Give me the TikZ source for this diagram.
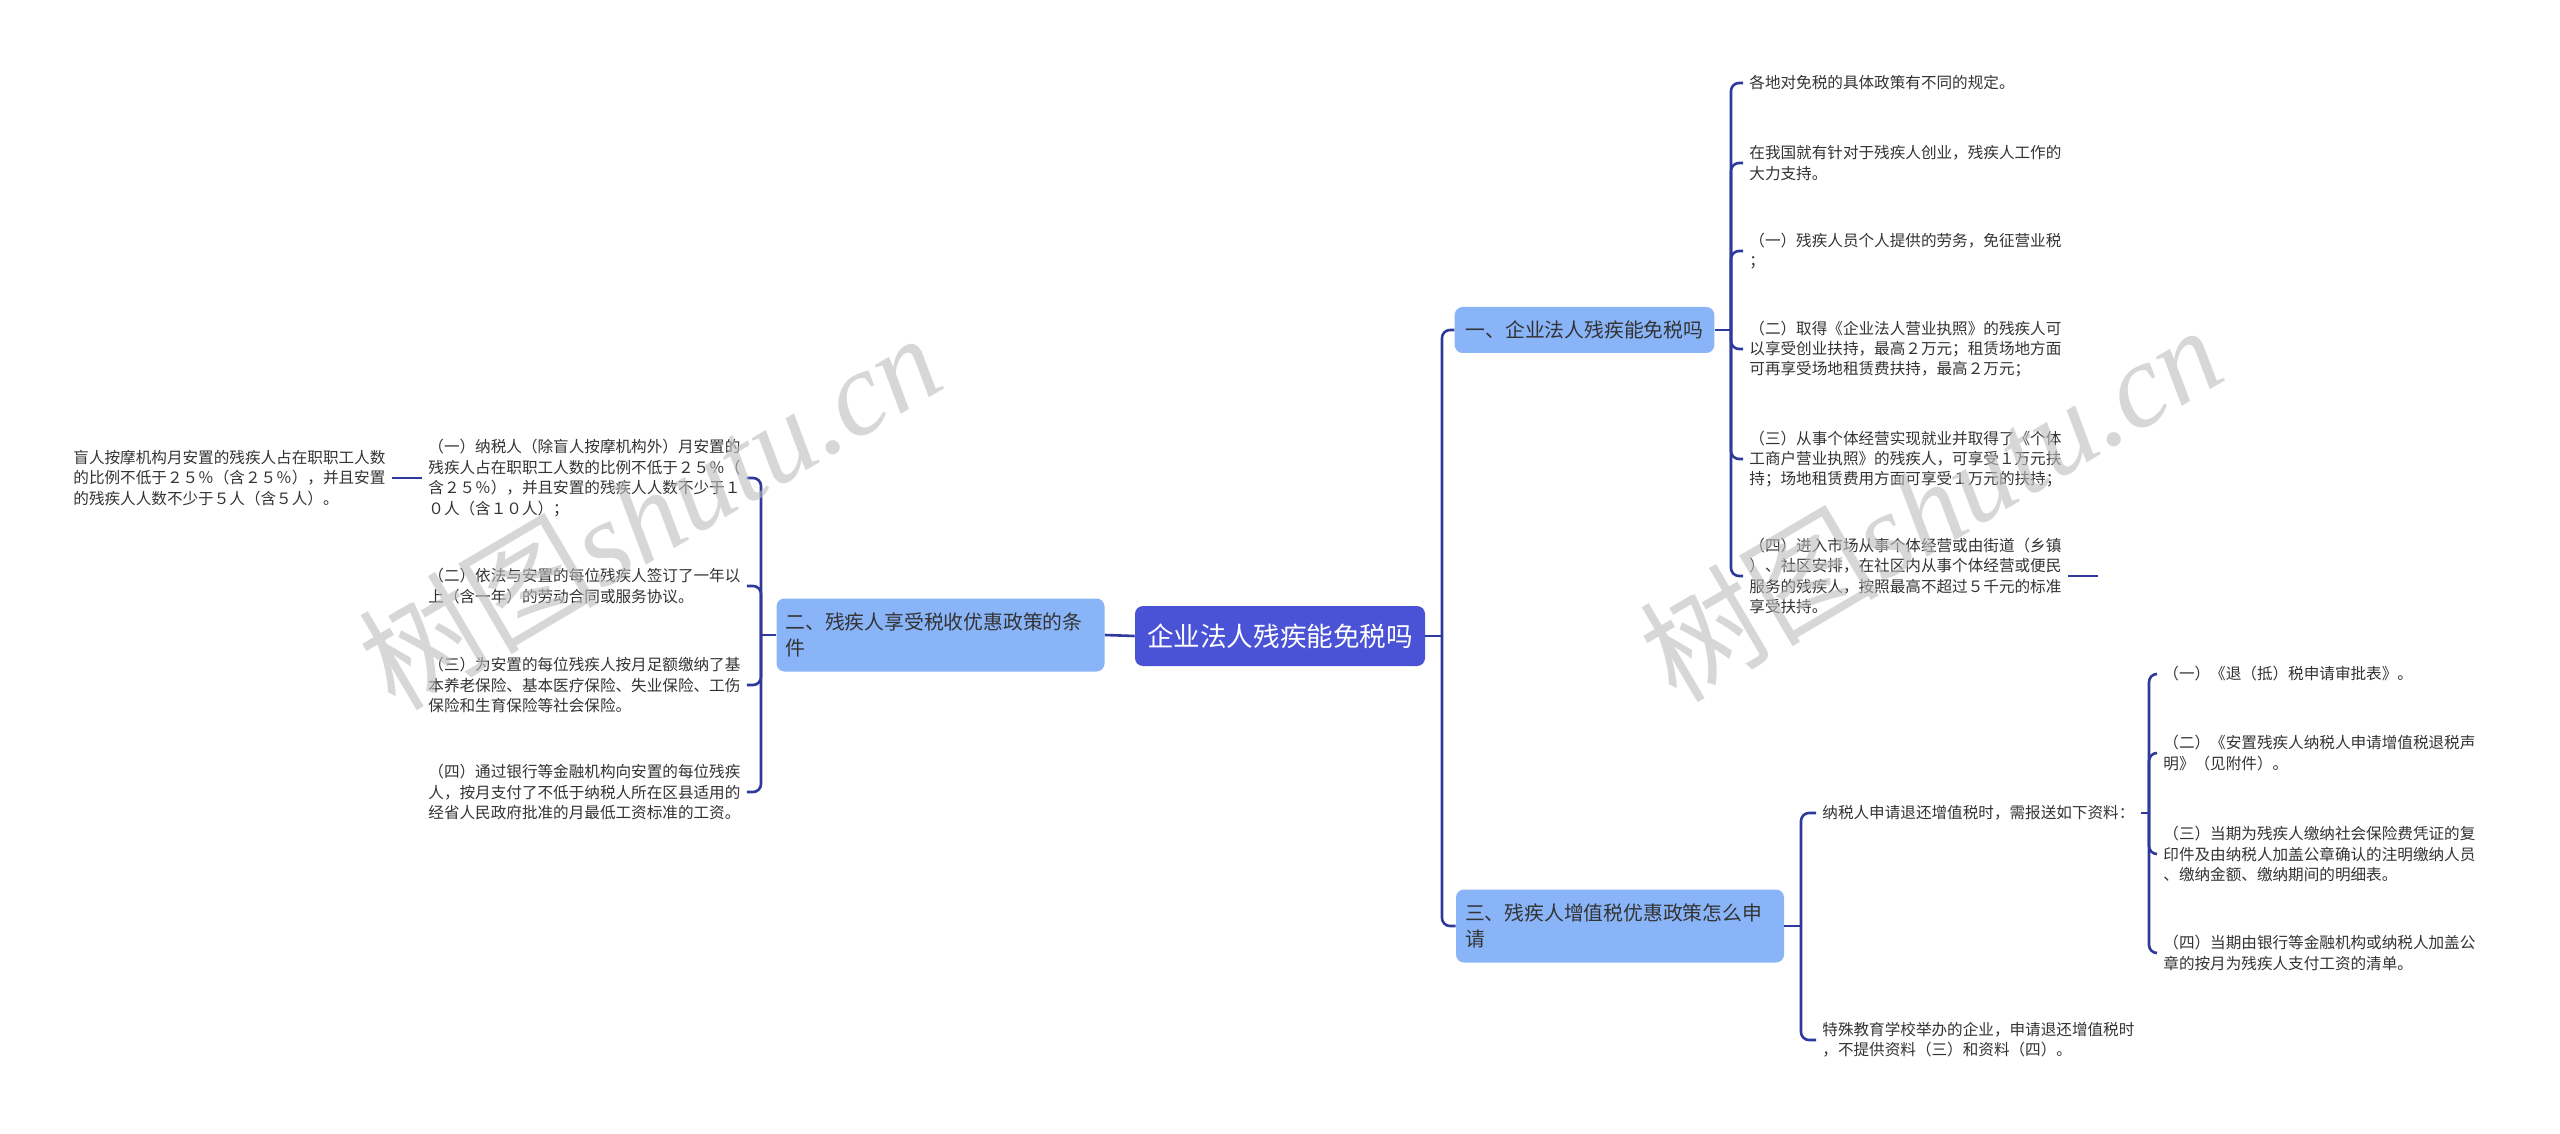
\documentclass[tikz,border=0pt]{standalone}
\usepackage{fontspec}
\setmainfont{Noto Sans CJK SC}
\newfontfamily\wmfont{Liberation Serif}
\usetikzlibrary{calc}
\definecolor{lc}{HTML}{2E3A9B}
\definecolor{rootc}{HTML}{4A52D6}
\definecolor{brc}{HTML}{8AB4F8}
\definecolor{txt}{HTML}{333333}
\definecolor{wm}{HTML}{BDBDBD}
\begin{document}
\begin{tikzpicture}[x=0.5pt,y=-0.5pt,
  conn/.style={draw=lc, line width=1.3pt, rounded corners=4pt},
  rootbox/.style={fill=rootc, rounded corners=4pt, text=white, font=\fontsize{13.3}{16}\selectfont, minimum width=145pt, minimum height=30pt, inner sep=0pt},
  brbox/.style={fill=brc, rounded corners=4pt, text=txt, font=\fontsize{9.9}{13}\selectfont, align=left},
  brone/.style={brbox, minimum width=129.5pt, minimum height=23pt, inner xsep=5.5pt},
  brtwo/.style={brbox, text width=155pt, inner xsep=4.5pt, minimum height=36.5pt},
  leaf/.style={text=txt, font=\fontsize{7.8}{10.2}\selectfont, align=left, inner xsep=3pt, inner ysep=0pt, anchor=west},
  wmark/.style={text=wm, opacity=0.6, rotate=30.5, inner sep=0pt}]
\useasboundingbox (0,0) rectangle (2560,1134);
\fill[white] (0,0) rectangle (2560,1134);

% central topic and main branches
\node[rootbox] (root) at (1280,636) {企业法人残疾能免税吗};
\node[brone] (b1) at (1584.5,330) {一、企业法人残疾能免税吗};
\node[brtwo] (b2) at (940.5,635) {二、残疾人享受税收优惠政策的条\\件};
\node[brtwo] (b3) at (1620,926) {三、残疾人增值税优惠政策怎么申\\请};

% branch 1 leaves
\node[leaf] (c1) at (1743,83) {各地对免税的具体政策有不同的规定。};
\node[leaf] (c2) at (1743,163) {在我国就有针对于残疾人创业，残疾人工作的\\大力支持。};
\node[leaf] (c3) at (1743,251) {（一）残疾人员个人提供的劳务，免征营业税\\；};
\node[leaf] (c4) at (1743,349) {（二）取得《企业法人营业执照》的残疾人可\\以享受创业扶持，最高２万元；租赁场地方面\\可再享受场地租赁费扶持，最高２万元；};
\node[leaf] (c5) at (1743,459) {（三）从事个体经营实现就业并取得了《个体\\工商户营业执照》的残疾人，可享受１万元扶\\持；场地租赁费用方面可享受１万元的扶持；};
\node[leaf] (c6) at (1743,576) {（四）进入市场从事个体经营或由街道（乡镇\\）、社区安排，在社区内从事个体经营或便民\\服务的残疾人，按照最高不超过５千元的标准\\享受扶持。};
\coordinate (c6end) at (2098,576);

% branch 2 leaves
\node[leaf] (l1) at (422,478) {（一）纳税人（除盲人按摩机构外）月安置的\\残疾人占在职职工人数的比例不低于２５％（\\含２５％），并且安置的残疾人人数不少于１\\０人（含１０人）；};
\node[leaf] (l2) at (422,586) {（二）依法与安置的每位残疾人签订了一年以\\上（含一年）的劳动合同或服务协议。};
\node[leaf] (l3) at (422,685) {（三）为安置的每位残疾人按月足额缴纳了基\\本养老保险、基本医疗保险、失业保险、工伤\\保险和生育保险等社会保险。};
\node[leaf] (l4) at (422,792) {（四）通过银行等金融机构向安置的每位残疾\\人，按月支付了不低于纳税人所在区县适用的\\经省人民政府批准的月最低工资标准的工资。};
\node[leaf] (ll) at (67,478) {盲人按摩机构月安置的残疾人占在职职工人数\\的比例不低于２５％（含２５％），并且安置\\的残疾人人数不少于５人（含５人）。};

% branch 3 leaves
\node[leaf] (d1) at (1816,813) {纳税人申请退还增值税时，需报送如下资料：};
\node[leaf] (d2) at (1816,1040) {特殊教育学校举办的企业，申请退还增值税时\\，不提供资料（三）和资料（四）。};
\node[leaf] (e1) at (2157,674) {（一）《退（抵）税申请审批表》。};
\node[leaf] (e2) at (2157,753) {（二）《安置残疾人纳税人申请增值税退税声\\明》（见附件）。};
\node[leaf] (e3) at (2157,854) {（三）当期为残疾人缴纳社会保险费凭证的复\\印件及由纳税人加盖公章确认的注明缴纳人员\\、缴纳金额、缴纳期间的明细表。};
\node[leaf] (e4) at (2157,953) {（四）当期由银行等金融机构或纳税人加盖公\\章的按月为残疾人支付工资的清单。};

% junctions
\coordinate (j0) at (1442,636);
\coordinate (j1) at (1731,330);
\coordinate (j2) at (761,635);
\coordinate (j3) at (1801,926);
\coordinate (j4) at (2149,813);

% connectors
\draw[conn] (root.west) -- (b2.east);
\draw[conn] (root.east) -- (j0);
\draw[conn] (j0) |- (b1.west);
\draw[conn] (j0) |- (b3.west);

\draw[conn] (b1.east) -- (j1);
\foreach \c in {c1,c2,c3,c4,c5,c6} \draw[conn] (j1) |- (\c.west);
\draw[conn] (c6.east) -- (c6end);

\draw[conn] (b2.west) -- (j2);
\foreach \c in {l1,l2,l3,l4} \draw[conn] (j2) |- (\c.east);
\draw[conn] (l1.west) -- (ll.east);

\draw[conn] (b3.east) -- (j3);
\foreach \c in {d1,d2} \draw[conn] (j3) |- (\c.west);
\draw[conn] (d1.east) -- (j4);
\foreach \c in {e1,e2,e3,e4} \draw[conn] (j4) |- (\c.west);

% watermarks
\node[wmark] (wm1) at (649,510) {\fontsize{60}{60}\selectfont 树图{\wmfont\itshape shutu.cn}};
\node[wmark] (wm2) at (1930,502) {\fontsize{60}{60}\selectfont 树图{\wmfont\itshape shutu.cn}};
\end{tikzpicture}
\end{document}
